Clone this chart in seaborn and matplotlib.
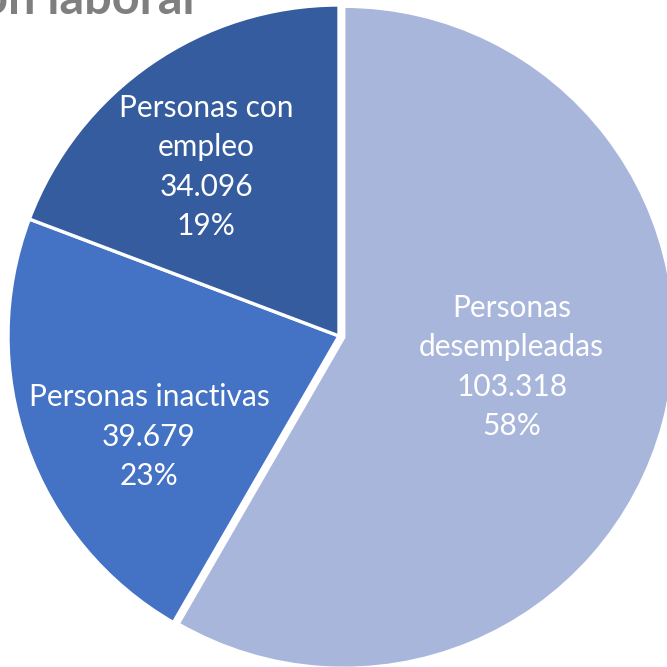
import numpy as np
import seaborn as sns
import matplotlib.pyplot as plt

# data
categories = ['Personas\ndesempleadas', 'Personas inactivas', 'Personas con\nempleo']
values = [103318, 39679, 34096]
value_labels = ['103.318', '39.679', '34.096']
pct_labels = ['58%', '23%', '19%']

colors = ['#A9B6DB', '#4472C4', '#355C9F']
title = 'Distribución de la población según situación laboral'

sns.set_theme(style='white')
plt.rcParams['font.family'] = ['Lato', 'DejaVu Sans']

fig = plt.figure(figsize=(6.67, 6.67), dpi=100)
ax = fig.add_axes([0, 0, 1, 1])

wedges, _ = ax.pie(values, colors=colors, startangle=90, counterclock=False,
                   explode=[0.015, 0, 0],
                   wedgeprops={'edgecolor': 'white', 'linewidth': 2.4})

# pie center at (339, 336) px, radius 331 px in a 667 px square
cx, cy, r = 339, 336, 331
ax.set_xlim(-cx / r, (667 - cx) / r)
ax.set_ylim(-(667 - cy) / r, cy / r)
ax.set_aspect('auto')
ax.axis('off')

# label placement: radius factor and angle tweak per slice
label_r = [0.53, 0.65, 0.65]
angle_shift = [4.9, 8.3, 3.5]
for w, cat, v, p, lr, sh in zip(wedges, categories, value_labels, pct_labels,
                                label_r, angle_shift):
    mid = np.deg2rad((w.theta1 + w.theta2) / 2 + sh)
    ax.text(lr * np.cos(mid), lr * np.sin(mid), f'{cat}\n{v}\n{p}',
            ha='center', va='center', color='white', fontsize=21.5,
            linespacing=1.5)

fig.text(195 / 667, 1 - 13 / 667, title, ha='right', va='baseline',
         fontsize=35, fontweight='bold', color='#7F7F7F')

fig.savefig('out.png', dpi=100)
